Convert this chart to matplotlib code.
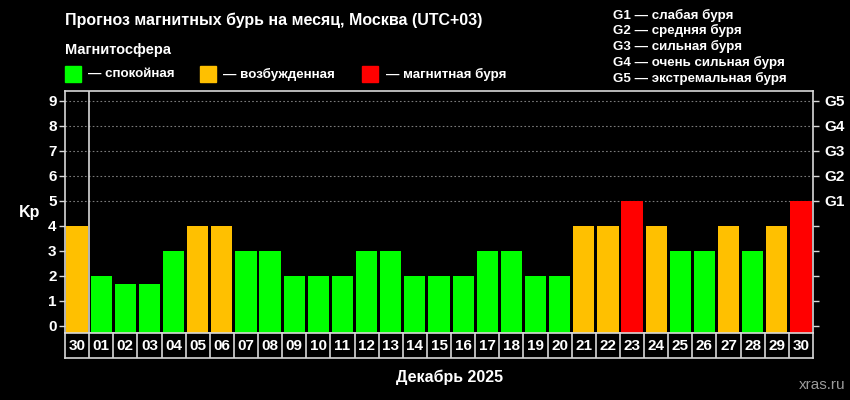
import numpy as np
import matplotlib.pyplot as plt

plt.rcParams['font.family'] = ['Liberation Sans', 'DejaVu Sans']
plt.rcParams['font.weight'] = 'bold'

# данные прогноза
days = ["30", "01", "02", "03", "04", "05", "06", "07", "08", "09", "10",
        "11", "12", "13", "14", "15", "16", "17", "18", "19", "20",
        "21", "22", "23", "24", "25", "26", "27", "28", "29", "30"]
kp = [4, 2, 1.67, 1.67, 3, 4, 4, 3, 3, 2, 2,
      2, 3, 3, 2, 2, 2, 3, 3, 2, 2,
      4, 4, 5, 4, 3, 3, 4, 3, 4, 5]
g_labels = ["G1", "G2", "G3", "G4", "G5"]
g_text = ["слабая буря", "средняя буря", "сильная буря",
          "очень сильная буря", "экстремальная буря"]
legend_names = ["спокойная", "возбужденная", "магнитная буря"]

GREEN = "#00ff00"
ORANGE = "#ffc000"
RED = "#ff0000"
FRAME = "#d8d8d8"


def kp_color(v):
    if v >= 5:
        return RED
    if v >= 4:
        return ORANGE
    return GREEN


W, H = 850, 400
fig = plt.figure(figsize=(8.5, 4), dpi=100, facecolor="black")


def px(x, y):
    return x / W, 1 - y / H


# основная область
ax = fig.add_axes([65 / W, 1 - 333 / H, 748 / W, 242 / H], facecolor="black")
ymin = -0.3
x = np.arange(len(kp))
ax.bar(x, np.array(kp) - ymin, bottom=ymin, width=0.88,
       color=[kp_color(v) for v in kp], zorder=3)
ax.set_xlim(-0.5, len(kp) - 0.5)
ax.set_ylim(ymin, 9.4)
for lvl in range(5, 10):
    ax.axhline(lvl, color="#7a7a7a", lw=0.8, ls=(0, (1.5, 2)), zorder=1)
ax.axvline(0.5, color=FRAME, lw=1.2, zorder=4)

ax.set_yticks(range(10))
ax.tick_params(axis="y", colors=FRAME, labelcolor="white", labelsize=11,
               length=4, width=1, pad=2)
ax.set_xticks([])
for s in ax.spines.values():
    s.set_color(FRAME)
    s.set_linewidth(1.2)

ax2 = ax.twinx()
ax2.set_ylim(ymin, 9.4)
ax2.set_yticks(range(10))
ax2.set_yticklabels([""] * 5 + g_labels)
ax2.tick_params(axis="y", colors=FRAME, labelcolor="white", labelsize=11,
                length=4, width=1, pad=4)
for s in ax2.spines.values():
    s.set_visible(False)

# строка с датами
lab = fig.add_axes([65 / W, 1 - 358 / H, 748 / W, 25 / H], facecolor="black")
lab.set_xlim(-0.5, len(kp) - 0.5)
lab.set_ylim(0, 1)
lab.set_xticks([])
lab.set_yticks([])
for s in lab.spines.values():
    s.set_color(FRAME)
    s.set_linewidth(1.2)
for i, d in enumerate(days):
    lab.text(i, 0.47, d, color="white", fontsize=11, ha="center", va="center")
    if i < len(days) - 1:
        lab.axvline(i + 0.5, color=FRAME, lw=1.2)

# тексты
fig.text(*px(65, 20), "Прогноз магнитных бурь на месяц, Москва (UTC+03)",
         color="white", fontsize=11.5, va="center")
fig.text(*px(65, 50), "Магнитосфера", color="white", fontsize=10.5, va="center")
for (sx, tx), name, c in zip([(65, 88), (200, 223), (362, 386)],
                             legend_names, [GREEN, ORANGE, RED]):
    x0, y0 = px(sx, 82)
    fig.patches.append(plt.Rectangle((x0, y0), 16 / W, 16 / H, color=c,
                                     transform=fig.transFigure))
    fig.text(*px(tx, 74), "— " + name, color="white", fontsize=9.6, va="center")

for i, (g, t) in enumerate(zip(g_labels, g_text)):
    fig.text(*px(613, 15 + i * 15.8), g + " — " + t, color="white",
             fontsize=9.6, va="center")

fig.text(*px(30, 213), "Kp", color="white", fontsize=11.5, ha="center", va="center")
fig.text(*px(450, 377), "Декабрь 2025", color="white", fontsize=11.5,
         ha="center", va="center")
fig.text(*px(845, 385), "xras.ru", color="#9a9a9a", fontsize=11,
         ha="right", va="center", fontweight="normal")

fig.savefig("out.png", dpi=100, facecolor="black")
